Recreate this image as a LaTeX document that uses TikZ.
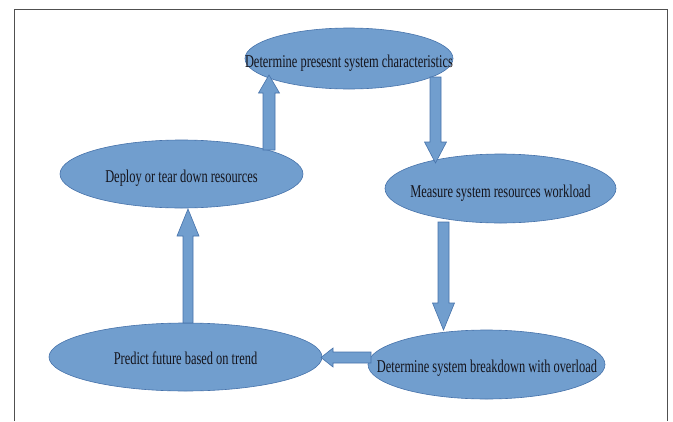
\documentclass[tikz,border=0pt]{standalone}
\usepackage{fontspec}
\setmainfont{Liberation Serif}
\newfontfamily\condserif[FakeStretch=0.69]{Liberation Serif}
\usetikzlibrary{shapes.geometric,calc}
\definecolor{ellfill}{RGB}{113,158,206}
\definecolor{elledge}{RGB}{70,114,170}
\definecolor{txtcol}{RGB}{20,20,28}
\definecolor{framecol}{RGB}{80,80,80}
\tikzset{
  ell/.style={ellipse, fill=ellfill, draw=elledge, line width=0.6pt, inner sep=0pt},
  lbl/.style={text=txtcol, font=\condserif\fontsize{18}{20}\selectfont, inner sep=0pt, anchor=base},
  blk/.style={fill=ellfill, draw=elledge, line width=0.6pt, line join=miter},
  frame/.style={draw=framecol, line width=1pt}
}
% block arrow: start, end, shaft half width, head half width, head length
\newcommand\blockarrow[5]{%
  \path[blk] ($(#1)!#3!90:(#2)$) -- ($($(#2)!#5!(#1)$)!#3!90:(#2)$)
    -- ($($(#2)!#5!(#1)$)!#4!90:(#2)$) -- (#2)
    -- ($($(#2)!#5!(#1)$)!#4!-90:(#2)$) -- ($($(#2)!#5!(#1)$)!#3!-90:(#2)$)
    -- ($(#1)!#3!-90:(#2)$) -- cycle;}
\begin{document}
\begin{tikzpicture}[x=1pt,y=-1pt]
\useasboundingbox (0,0) rectangle (673,421);
% frame
\draw[frame] (14,421) -- (14,9) -- (667,9) -- (667,421);
% ellipses
\node[ell, minimum width=208pt, minimum height=61pt] (e1) at (349,58.5) {};
\node[ell, minimum width=243pt, minimum height=68pt] (e2) at (181.5,174) {};
\node[ell, minimum width=231pt, minimum height=69pt] (e3) at (500.5,188.5) {};
\node[ell, minimum width=237pt, minimum height=69pt] (e4) at (486.5,364.5) {};
\node[ell, minimum width=273pt, minimum height=68pt] (e5) at (185.5,357) {};
% arrow ends
\coordinate (aS) at (269,150);   \coordinate (aE) at (269,75);
\coordinate (bS) at (435.5,77);  \coordinate (bE) at (435.5,163);
\coordinate (cS) at (443.5,222); \coordinate (cE) at (443.5,330);
\coordinate (dS) at (371,357.5); \coordinate (dE) at (321,357.5);
\coordinate (fS) at (188,323);   \coordinate (fE) at (188,209);
\blockarrow{aS}{aE}{6pt}{10.5pt}{18pt}
\blockarrow{bS}{bE}{5.5pt}{11pt}{21pt}
\blockarrow{cS}{cE}{5.5pt}{11pt}{27pt}
\blockarrow{dS}{dE}{5.5pt}{9.5pt}{12pt}
\blockarrow{fS}{fE}{5pt}{11pt}{27pt}
% labels
\node[lbl] (t1) at ($(e1.center)+(0,8.5)$) {Determine presesnt system characteristics};
\node[lbl] (t2) at ($(e2.center)+(0,8)$) {Deploy or tear down resources};
\node[lbl] (t3) at ($(e3.center)+(0,8.5)$) {Measure system resources workload};
\node[lbl] (t4) at ($(e4.center)+(0.5,7.5)$) {Determine system breakdown with overload};
\node[lbl] (t5) at ($(e5.center)+(0,7)$) {Predict future based on trend};
\end{tikzpicture}
\end{document}
